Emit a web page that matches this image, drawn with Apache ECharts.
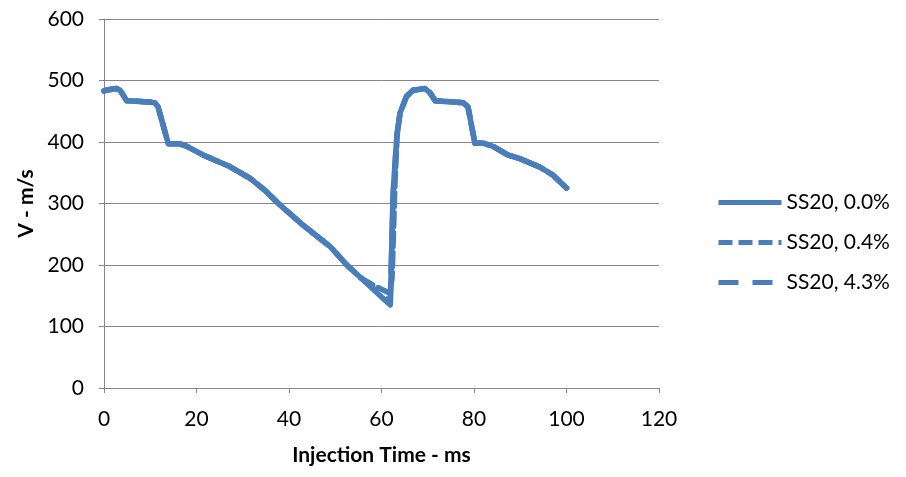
<!DOCTYPE html>
<html><head><meta charset="utf-8">
<script src="https://cdn.jsdelivr.net/npm/echarts@6/dist/echarts.min.js"></script>
<style>html,body{margin:0;padding:0;background:#fff}#c{width:906px;height:477px}</style>
</head><body><div id="c"></div>
<script>
// Series names
const seriesNames = ["SS20, 0.0%", "SS20, 0.4%", "SS20, 4.3%"];
// x-axis ticks
const xTicks = [0, 20, 40, 60, 80, 100, 120];
const yTicks = [0, 100, 200, 300, 400, 500, 600];

// SS20, 0.0%
const timeA  = [0, 1, 2.7, 3.5, 4.9, 8, 11, 11.7, 13.9, 16.4, 17.9, 21.4, 27.2, 31.6, 35, 38, 43, 48.9, 52.5, 56, 59, 61.9, 62.5, 63.3, 64, 65.4, 66.8, 69.4, 70.5, 71.6, 77.7, 78.7, 80.2, 82, 84.1, 87.3, 89.9, 94.3, 97.1, 100];
const speedA = [483, 485, 487, 484, 467, 466, 464, 457, 397, 397, 393, 379, 360, 341, 320, 298, 265, 230, 200, 176, 155, 135, 317, 409, 447, 474, 484, 487, 480, 467, 464, 457, 398, 398, 393, 379, 373, 359, 346, 325];
// SS20, 0.4%
const timeB  = [0, 1, 2.7, 3.5, 4.9, 8, 11, 11.7, 13.9, 16.4, 17.9, 21.4, 27.2, 31.6, 35, 38, 43, 48.9, 52.5, 55.5, 58.5, 61.8, 62.3, 62.9, 63.4, 64, 65.4, 66.8, 69.4, 70.5, 71.6, 77.7, 78.7, 80.2, 82, 84.1, 87.3, 89.9, 94.3, 97.1, 100];
const speedB = [483, 485, 487, 484, 467, 466, 464, 457, 397, 397, 393, 379, 360, 341, 320, 298, 265, 230, 200, 179, 166, 154, 180, 330, 412, 447, 474, 484, 487, 480, 467, 464, 457, 398, 398, 393, 379, 373, 359, 346, 325];
// SS20, 4.3%
const timeC  = [0, 1, 2.7, 3.5, 4.9, 8, 11, 11.7, 13.9, 16.4, 17.9, 21.4, 27.2, 31.6, 35, 38, 43, 48.9, 52.5, 56, 59, 61.9, 62.5, 63.3, 64, 65.4, 66.8, 69.4, 70.5, 71.6, 77.7, 78.7, 80.2, 82, 84.1, 87.3, 89.9, 94.3, 97.1, 100];
const speedC = [483, 485, 487, 484, 467, 466, 464, 457, 397, 397, 393, 379, 360, 341, 320, 298, 265, 230, 200, 176, 157, 140, 310, 409, 447, 474, 484, 487, 480, 467, 464, 457, 398, 398, 393, 379, 373, 359, 346, 325];

const zip = (a, b) => a.map((x, i) => [x, b[i]]);
const color = '#4a7ebb';
const font = 'Lato, "Open Sans", sans-serif';
const styles = [
  {type: 'solid'},
  {type: [14, 6]},
  {type: [20, 14]}
];
const datas = [zip(timeA, speedA), zip(timeB, speedB), zip(timeC, speedC)];

const chart = echarts.init(document.getElementById('c'));
chart.setOption({
  animation: false,
  backgroundColor: '#fff',
  grid: {left: 104, right: 247, top: 19, bottom: 89},
  legend: {
    orient: 'vertical', left: 716, top: 192, itemGap: 19, padding: 0,
    itemWidth: 63, itemHeight: 22,
    itemStyle: {opacity: 0},
    lineStyle: {width: 5, cap: 'butt'},
    textStyle: {fontFamily: font, fontSize: 21, color: '#000'},
    data: seriesNames
  },
  xAxis: {
    type: 'value', min: 0, max: 120, interval: 20,
    name: 'Injection Time - ms', nameLocation: 'middle', nameGap: 57,
    nameTextStyle: {fontFamily: font, fontSize: 21, fontWeight: 'bold', color: '#000'},
    axisLine: {lineStyle: {color: '#868686', width: 1}},
    axisTick: {show: true, length: 5, lineStyle: {color: '#868686'}},
    axisLabel: {fontFamily: font, fontSize: 21, color: '#000', margin: 21},
    splitLine: {show: false}
  },
  yAxis: {
    type: 'value', min: 0, max: 600, interval: 100,
    name: 'V - m/s', nameLocation: 'middle', nameGap: 66,
    nameTextStyle: {fontFamily: font, fontSize: 21, fontWeight: 'bold', color: '#000'},
    axisLine: {show: true, lineStyle: {color: '#868686', width: 1}},
    axisTick: {show: true, length: 5, lineStyle: {color: '#868686'}},
    axisLabel: {fontFamily: font, fontSize: 21, color: '#000', margin: 20},
    splitLine: {lineStyle: {color: '#868686', width: 1}}
  },
  series: seriesNames.map((n, i) => ({
    name: n, type: 'line', data: datas[i], showSymbol: false, symbol: 'none',
    lineStyle: Object.assign({color: color, width: 5.5, cap: 'round', join: 'round'}, styles[i]),
    itemStyle: {color: color}
  }))
});
</script></body></html>
